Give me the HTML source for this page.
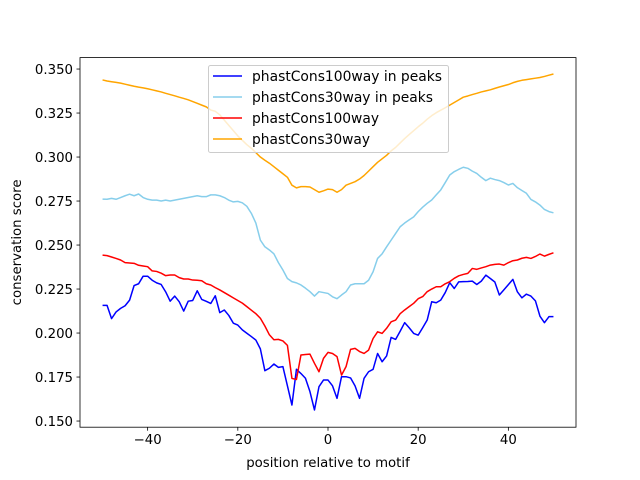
<!DOCTYPE html>
<html><head><meta charset="utf-8"><style>
html,body{margin:0;padding:0;background:#fff;}
svg{display:block;font-family:"DejaVu Sans","Liberation Sans",sans-serif;}
</style></head><body>
<svg id="chart" width="640" height="480">
</svg>
<script>
const positions = [];
for (let i = -50; i <= 50; i++) positions.push(i);
const blue100Peaks = [.2157,.2157,.2082,.2120,.2140,.2155,.2187,.2270,.2280,.2323,.2323,.2300,.2285,.2276,.2234,.2181,.2210,.2178,.2125,.2181,.2185,.2240,.2191,.2180,.2168,.2212,.2116,.2131,.2100,.2056,.2045,.2018,.1999,.1980,.1960,.1910,.1786,.1800,.1824,.1805,.1809,.1700,.1591,.1794,.1770,.1743,.1667,.1563,.1695,.1733,
.1733,.1700,.1629,.1752,.1752,.1745,.1700,.1629,.1743,.1780,.1794,.1884,.1837,.1870,.1975,.1964,.2010,.2059,.2030,.1998,.1988,.2030,.2074,.2178,.2172,.2187,.2230,.2286,.2253,.2291,.2292,.2293,.2295,.2276,.2295,.2329,.2310,.2290,.2216,.2245,.2275,.2305,.2234,.2200,.2221,.2210,.2183,.2096,.2059,.2093,.2093];
const sky30Peaks = [.2761,.2760,.2765,.2760,.2770,.2780,.2789,.2780,.2790,.2770,.2760,.2755,.2755,.2750,.2755,.2750,.2755,.2760,.2765,.2770,.2775,.2780,.2775,.2775,.2785,.2785,.2780,.2770,.2755,.2745,.2748,.2740,.2720,.2680,.2625,.2528,.2490,.2472,.2450,.2400,.2358,.2310,.2292,.2285,.2273,.2255,.2235,.2210,.2235,.2230,
.2225,.2206,.2195,.2216,.2235,.2273,.2280,.2280,.2280,.2300,.2348,.2424,.2450,.2490,.2528,.2566,.2604,.2625,.2643,.2660,.2690,.2715,.2737,.2756,.2785,.2813,.2855,.2898,.2917,.2930,.2942,.2936,.2920,.2907,.2885,.2866,.2880,.2872,.2866,.2855,.2841,.2850,.2826,.2810,.2794,.2759,.2745,.2727,.2702,.2690,.2683];
const red100 = [.2443,.2440,.2432,.2424,.2415,.2400,.2398,.2396,.2385,.2381,.2377,.2353,.2350,.2340,.2326,.2330,.2330,.2315,.2307,.2307,.2301,.2300,.2297,.2280,.2273,.2258,.2245,.2230,.2215,.2200,.2185,.2170,.2150,.2130,.2110,.2084,.2040,.1990,.1962,.1964,.1955,.1930,.1742,.1736,.1875,.1878,.1880,.1828,.1780,.1856,
.1890,.1884,.1866,.1761,.1809,.1907,.1913,.1895,.1884,.1903,.1969,.2007,.1998,.2027,.2064,.2074,.2110,.2131,.2150,.2169,.2195,.2207,.2235,.2250,.2263,.2263,.2280,.2292,.2311,.2325,.2333,.2339,.2367,.2362,.2370,.2377,.2386,.2390,.2392,.2386,.2400,.2411,.2415,.2425,.2430,.2424,.2435,.2449,.2437,.2447,.2456];
const orange30 = [.3438,.3432,.3428,.3424,.3420,.3414,.3408,.3402,.3397,.3393,.3388,.3382,.3376,.3370,.3362,.3355,.3348,.3340,.3333,.3325,.3315,.3305,.3295,.3285,.3267,.3260,.3240,.3210,.3180,.3150,.3120,.3095,.3070,.3050,.3025,.3000,.2982,.2965,.2945,.2925,.2905,.2885,.2840,.2825,.2832,.2832,.2830,.2815,.2800,.2808,
.2818,.2815,.2800,.2815,.2840,.2850,.2860,.2875,.2895,.2920,.2945,.2970,.2990,.3010,.3035,.3055,.3080,.3105,.3128,.3150,.3172,.3192,.3215,.3235,.3252,.3266,.3280,.3295,.3310,.3325,.3340,.3347,.3355,.3362,.3370,.3376,.3382,.3390,.3398,.3405,.3412,.3422,.3430,.3436,.3440,.3444,.3448,.3452,.3458,.3465,.3472];
const seriesNames = ["phastCons100way in peaks","phastCons30way in peaks","phastCons100way","phastCons30way"];
const seriesColors = ["#0000ff","#87ceeb","#ff0000","#ffa500"];
const xTicks = [-40,-20,0,20,40];
const yTicks = [0.150,0.175,0.200,0.225,0.250,0.275,0.300,0.325,0.350];

const L=80,R=576,T=57.6,B=427.2;
const xMin=-55,xMax=55,yMin=0.1465,yMax=0.3565;
const sx=v=>L+(v-xMin)/(xMax-xMin)*(R-L);
const sy=v=>B-(v-yMin)/(yMax-yMin)*(B-T);
const NS="http://www.w3.org/2000/svg";
const svg=document.getElementById('chart');
function mk(tag,attrs,parent){const e=document.createElementNS(NS,tag);for(const k in attrs)e.setAttribute(k,attrs[k]);(parent||svg).appendChild(e);return e;}

const allSeries=[blue100Peaks,sky30Peaks,red100,orange30];
const seriesKeys=["series-phastcons100way-peaks","series-phastcons30way-peaks","series-phastcons100way","series-phastcons30way"];
allSeries.forEach((vals,si)=>{
  const d=vals.map((v,i)=>(i?'L':'M')+sx(positions[i]).toFixed(2)+' '+sy(v).toFixed(2)).join(' ');
  const p=mk('path',{d:d,fill:'none',stroke:seriesColors[si],'stroke-width':1.5,'stroke-linejoin':'round'});
  
  
});

const frame=mk('rect',{x:L,y:T,width:R-L,height:B-T,fill:'none',stroke:'#000','stroke-width':0.8});



xTicks.forEach(t=>{
  const g=mk('g',{});
  
  
  mk('line',{x1:sx(t),x2:sx(t),y1:B,y2:B+3.5,stroke:'#000','stroke-width':0.8},g);
  const tx=mk('text',{x:sx(t),y:B+17,'text-anchor':'middle','font-size':'13.3px',fill:'#000'},g);
  tx.textContent=t<0?'\u2212'+Math.abs(t):String(t);
});
yTicks.forEach(t=>{
  const g=mk('g',{});
  
  
  mk('line',{x1:L-3.5,x2:L,y1:sy(t),y2:sy(t),stroke:'#000','stroke-width':0.8},g);
  const tx=mk('text',{x:L-7,y:sy(t)+5,'text-anchor':'end','font-size':'13.3px',fill:'#000'},g);
  tx.textContent=t.toFixed(3);
});
const xt=mk('text',{x:(L+R)/2,y:467,'text-anchor':'middle','font-size':'13.3px'});
xt.textContent='position relative to motif';


const yt=mk('text',{x:0,y:0,'text-anchor':'middle','font-size':'13.3px',transform:'translate(21,'+((T+B)/2)+') rotate(-90)'});
yt.textContent='conservation score';



const lg=mk('g',{});


mk('rect',{x:208.5,y:65.5,width:240,height:87,rx:2,fill:'#fff','fill-opacity':0.8,stroke:'#ccc','stroke-width':1},lg);
const legendWidths=[190,181,127,118];
seriesNames.forEach((n,i)=>{
  const y=76+i*21;
  const e=mk('g',{},lg);
  
  
  mk('line',{x1:213,x2:242,y1:y,y2:y,stroke:seriesColors[i],'stroke-width':1.5},e);
  const t=mk('text',{x:252,y:y+5,'font-size':'14px',fill:'#000',textLength:legendWidths[i],lengthAdjust:'spacingAndGlyphs'},e);
  t.textContent=n;
});
</script>
</body></html>
